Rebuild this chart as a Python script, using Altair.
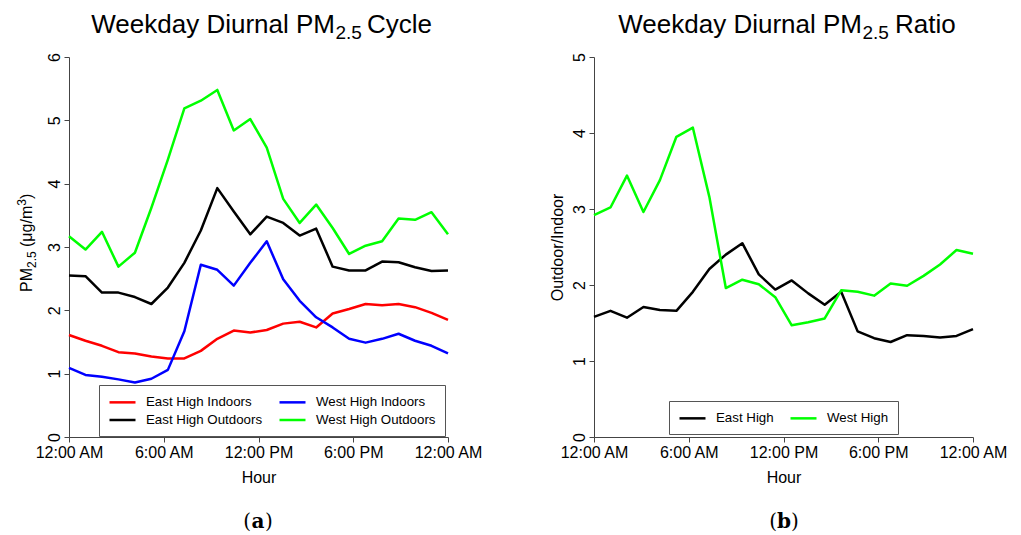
import altair as alt
import pandas as pd

# ---------------- data ----------------
hour_idx = list(range(24))
tick_labels = ["12:00 AM", "6:00 AM", "12:00 PM", "6:00 PM", "12:00 AM"]

east_indoors = [1.61, 1.52, 1.44, 1.34, 1.32, 1.27, 1.24, 1.24, 1.36, 1.55, 1.68, 1.65,
                1.69, 1.79, 1.82, 1.73, 1.95, 2.02, 2.10, 2.08, 2.10, 2.05, 1.96, 1.85]
east_outdoors = [2.55, 2.54, 2.28, 2.28, 2.21, 2.10, 2.36, 2.75, 3.26, 3.93, 3.56, 3.20,
                 3.48, 3.38, 3.18, 3.29, 2.69, 2.63, 2.63, 2.77, 2.76, 2.68, 2.62, 2.63]
west_indoors = [1.09, 0.98, 0.95, 0.91, 0.86, 0.92, 1.06, 1.67, 2.72, 2.64, 2.39, 2.75,
                3.09, 2.49, 2.15, 1.89, 1.73, 1.55, 1.49, 1.55, 1.63, 1.52, 1.44, 1.32]
west_outdoors = [3.17, 2.96, 3.24, 2.69, 2.91, 3.62, 4.38, 5.19, 5.31, 5.48, 4.84, 5.02,
                 4.57, 3.76, 3.38, 3.67, 3.30, 2.89, 3.02, 3.09, 3.45, 3.43, 3.55, 3.20]

ratio_east = [1.58, 1.66, 1.57, 1.71, 1.67, 1.66, 1.91, 2.21, 2.40, 2.55, 2.14, 1.94,
              2.06, 1.89, 1.74, 1.91, 1.39, 1.30, 1.25, 1.34, 1.33, 1.31, 1.33, 1.42]
ratio_west = [2.92, 3.02, 3.44, 2.96, 3.38, 3.95, 4.07, 3.16, 1.96, 2.07, 2.01, 1.84,
              1.47, 1.51, 1.56, 1.93, 1.91, 1.86, 2.02, 1.99, 2.12, 2.27, 2.46, 2.41]

left_series = ["East High Indoors", "West High Indoors", "East High Outdoors", "West High Outdoors"]
left_colors = ["#ff0000", "#0000ff", "#000000", "#00ff00"]
left_values = [east_indoors, west_indoors, east_outdoors, west_outdoors]
draw_order_left = {"East High Indoors": 0, "East High Outdoors": 1, "West High Indoors": 2, "West High Outdoors": 3}

right_series = ["East High", "West High"]
right_colors = ["#000000", "#00ff00"]
right_values = [ratio_east, ratio_west]

title_left = ["Weekday Diurnal PM", "2.5", "Cycle"]
title_right = ["Weekday Diurnal PM", "2.5", "Ratio"]
ylab_left = ["PM", "2.5", "(\u03bcg/m", "3", ")"]
ylab_right = "Outdoor/Indoor"
xlab = "Hour"
panel_tags = ["a", "b"]

# ---------------- build tables ----------------
rows = []
for name, vals in zip(left_series, left_values):
    for h, v in zip(hour_idx, vals):
        rows.append({"idx": h, "value": v, "series": name, "ord": draw_order_left[name]})
df_left = pd.DataFrame(rows)

rows = []
for k, (name, vals) in enumerate(zip(right_series, right_values)):
    for h, v in zip(hour_idx, vals):
        rows.append({"idx": h, "value": v, "series": name, "ord": k})
df_right = pd.DataFrame(rows)

FONT = "Liberation Sans"
SERIF = "DejaVu Serif"
W, H = 379, 380
tick_pos = [0, 5.75, 11.5, 17.25, 23]
label_expr = "[" + ",".join("'%s'" % t for t in tick_labels) + "][round(datum.value / 5.75)]"


def txt(s, x, y, size, align="left", baseline="alphabetic", angle=0, font=FONT, weight="normal"):
    return alt.Chart(alt.Data(values=[{"t": s}])).mark_text(
        align=align, baseline=baseline, fontSize=size, font=font,
        fontWeight=weight, angle=angle, color="black"
    ).encode(x=alt.value(x), y=alt.value(y), text="t:N")


def xenc():
    return alt.X("idx:Q", scale=alt.Scale(domain=[0, 23], nice=False, zero=False),
                 axis=alt.Axis(values=tick_pos, labelExpr=label_expr, title=xlab,
                               labelAngle=0, labelPadding=2, titlePadding=9,
                               labelOverlap=False, labelFlush=False, labelBound=False))


def legend(x, y):
    return alt.Legend(orient="none", legendX=x, legendY=y, columns=2, title=None,
                      direction="horizontal",
                      symbolType="M-1,0L3,0", symbolSize=169, symbolStrokeWidth=2.5,
                      labelFont=FONT, labelFontSize=13.3, labelOffset=22,
                      strokeColor="#555555", fillColor="white", padding=9,
                      rowPadding=3, columnPadding=11, labelLimit=300)


left_lines = alt.Chart(df_left).mark_line(strokeWidth=2.5, strokeJoin="round").encode(
    x=xenc(),
    y=alt.Y("value:Q", scale=alt.Scale(domain=[0, 6], nice=False),
            axis=alt.Axis(values=[0, 1, 2, 3, 4, 5, 6], title=None, labelAngle=270,
                          labelAlign="center", labelBaseline="alphabetic", labelPadding=5,
                          labelOverlap=False, labelFlush=False)),
    color=alt.Color("series:N", scale=alt.Scale(domain=left_series, range=left_colors),
                    legend=legend(30, 328)),
    order="ord:Q",
    detail="series:N",
)

left = alt.layer(
    left_lines,
    txt(title_left[0], 266, -24, 26, align="right"),
    txt(title_left[1], 266.5, -18, 19),
    txt(title_left[2], 298, -24, 26),
    txt(ylab_left[0], -37, 235, 16, angle=270),
    txt(ylab_left[1], -33, 211, 12, angle=270),
    txt(ylab_left[2], -37, 190, 16, angle=270),
    txt(ylab_left[3], -43, 148.7, 12, angle=270),
    txt(ylab_left[4], -37, 142, 16, angle=270),
    txt("(", 182, 471, 20, align="right", font=SERIF),
    txt(panel_tags[0], 189, 471, 20, align="center", font=SERIF, weight="bold"),
    txt(")", 196, 471, 20, align="left", font=SERIF),
).properties(width=W, height=H)

right_lines = alt.Chart(df_right).mark_line(strokeWidth=2.5, strokeJoin="round").encode(
    x=xenc(),
    y=alt.Y("value:Q", scale=alt.Scale(domain=[0, 5], nice=False),
            axis=alt.Axis(values=[0, 1, 2, 3, 4, 5], title=ylab_right, labelAngle=270,
                          labelAlign="center", labelBaseline="alphabetic", labelPadding=5,
                          labelOverlap=False, labelFlush=False,
                          titleX=-32, titleY=190, titleAngle=270, titleAlign="center",
                          titleBaseline="alphabetic")),
    color=alt.Color("series:N", scale=alt.Scale(domain=right_series, range=right_colors),
                    legend=legend(75, 344)),
    order="ord:Q",
    detail="series:N",
)

right = alt.layer(
    right_lines,
    txt(title_right[0], 268, -24, 26, align="right"),
    txt(title_right[1], 268.5, -18, 19),
    txt(title_right[2], 301, -24, 26),
    txt("(", 183, 471, 20, align="right", font=SERIF),
    txt(panel_tags[1], 190, 471, 20, align="center", font=SERIF, weight="bold"),
    txt(")", 197, 471, 20, align="left", font=SERIF),
).properties(width=W, height=H)

chart = alt.hconcat(left, right, spacing=146, bounds="flush").resolve_scale(
    color="independent"
).resolve_legend(color="independent").properties(
    padding={"left": 16, "top": 12, "right": 5, "bottom": 5},
    background="white",
).configure_view(stroke=None).configure_axis(
    labelFont=FONT, labelFontSize=16, labelColor="black",
    titleFont=FONT, titleFontSize=16, titleFontWeight="normal", titleColor="black",
    domainColor="#444444", tickColor="#444444", tickSize=5, grid=False,
)

chart.save("out.html", embed_options={"renderer": "svg", "actions": False})
